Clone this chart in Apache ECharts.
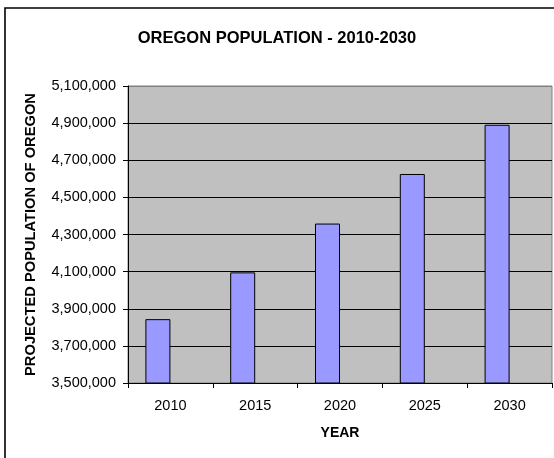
<!DOCTYPE html>
<html>
<head>
<meta charset="utf-8">
<script src="https://cdn.jsdelivr.net/npm/echarts@6/dist/echarts.min.js"></script>
<style>
html,body{margin:0;padding:0;background:#fff;}
#chart{width:554px;height:458px;}
</style>
</head>
<body>
<div id="chart"></div>
<script>
var categories = ['2010', '2015', '2020', '2025', '2030'];
var population = [3844000, 4096000, 4359000, 4626000, 4891000];
var emptySeries = [null, null, null, null, null];
var yMin = 3500000, yMax = 5100000, yStep = 200000;

var FONT = '"Liberation Sans", Arial, sans-serif';
var gridColors = ['#000', '#000', '#000', '#000', '#000', '#000', '#000', '#000', '#808080'];
var chart = echarts.init(document.getElementById('chart'), null, {renderer: 'canvas'});
chart.setOption({
  backgroundColor: '#ffffff',
  animation: false,
  title: {
    text: 'OREGON POPULATION - 2010-2030',
    left: 'center',
    top: 25,
    textStyle: {fontFamily: FONT, fontSize: 16.5, fontWeight: 'bold', color: '#000'}
  },
  graphic: [{
    type: 'rect',
    shape: {x: 5, y: 8, width: 700, height: 600},
    style: {fill: 'none', stroke: '#000', lineWidth: 1.6},
    silent: true
  }],
  grid: {
    left: 128, right: 2, top: 86, bottom: 75,
    show: true,
    backgroundColor: '#C0C0C0',
    borderColor: '#808080',
    borderWidth: 1
  },
  xAxis: {
    type: 'category',
    data: categories,
    name: 'YEAR',
    nameLocation: 'middle',
    nameGap: 43,
    nameTextStyle: {fontFamily: FONT, fontSize: 14, fontWeight: 'bold', color: '#000'},
    axisLine: {show: true, lineStyle: {color: '#000', width: 1}},
    axisTick: {show: true, length: 5, inside: false, lineStyle: {color: '#000'}},
    axisLabel: {fontFamily: FONT, fontSize: 14.5, color: '#000', margin: 15},
    splitLine: {show: false}
  },
  yAxis: {
    type: 'value',
    min: yMin, max: yMax, interval: yStep,
    name: 'PROJECTED POPULATION OF OREGON',
    nameLocation: 'middle',
    nameGap: 90,
    nameTextStyle: {fontFamily: FONT, fontSize: 14.7, fontWeight: 'bold', color: '#000'},
    axisLine: {show: true, lineStyle: {color: '#000', width: 1}},
    axisTick: {show: true, length: 5, inside: false, lineStyle: {color: '#000'}},
    axisLabel: {
      fontFamily: FONT, fontSize: 14.5, color: '#000', margin: 12,
      formatter: function (v) { return v.toLocaleString('en-US'); }
    },
    splitLine: {show: true, lineStyle: {color: gridColors, width: 1}}
  },
  series: [{
    type: 'bar',
    data: population,
    barWidth: 25,
    barGap: '0%',
    itemStyle: {color: '#9999FF', borderColor: '#000', borderWidth: 1}
  }, {
    type: 'bar',
    data: emptySeries,
    barWidth: 25,
    barGap: '0%'
  }]
});
</script>
</body>
</html>
